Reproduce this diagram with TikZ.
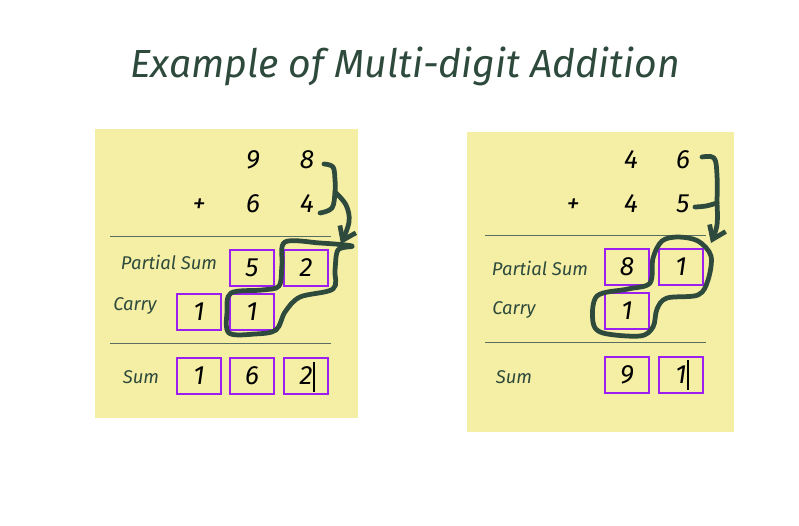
\documentclass[tikz,border=0pt]{standalone}
\usepackage{fontspec}
\setmainfont{Fira Sans}
\usepackage{tikz}
\usetikzlibrary{arrows.meta}

\definecolor{note}{HTML}{F5EEA5}
\definecolor{ink}{HTML}{2E4A3C}
\definecolor{boxc}{HTML}{9B1FF0}

\tikzset{
  digit/.style={font=\itshape\fontsize{15}{15}\selectfont, text=black, inner sep=0pt},
  cell/.style={rectangle, draw=boxc, line width=1.2pt, minimum width=0.88cm, minimum height=0.72cm, font=\itshape\fontsize{15}{15}\selectfont},
  lbl/.style={font=\itshape\fontsize{10.5}{10.5}\selectfont, text=ink, inner sep=0pt},
  rule/.style={draw=ink!80, line width=0.5pt},
  stroke/.style={draw=ink, line width=2.7pt, line cap=round, line join=round}
}

\begin{document}
\begin{tikzpicture}[x=0.02cm, y=-0.02cm]
\useasboundingbox (0,0) rectangle (799,525);
\node[font=\itshape\fontsize{22.3}{22.3}\selectfont, text=ink] (title) at (405,66) {Example of Multi-digit Addition};

% left note
\fill[note] (95,129) rectangle (358,418);
\node[digit] (la1) at (253,160) {9};
\node[digit] (la2) at (307,160) {8};
\node[digit] (lplus) at (199,206) {+};
\node[digit] (lb1) at (253,204) {6};
\node[digit] (lb2) at (307,204) {4};
\coordinate (lr1a) at (110,236);
\coordinate (lr1b) at (331,236);
\draw[rule] (lr1a) -- (lr1b);
\node[lbl] (lpart) at (169,262) {Partial Sum};
\node[cell] (lp1) at (252,268) {5};
\node[cell] (lp2) at (306,268) {2};
\node[lbl] (lcarry) at (135,306) {Carry};
\node[cell] (lc0) at (199,312) {1};
\node[cell] (lc1) at (252,312) {1};
\coordinate (lr2a) at (110,343);
\coordinate (lr2b) at (331,343);
\draw[rule] (lr2a) -- (lr2b);
\node[lbl] (lsum) at (141,377) {Sum};
\node[cell] (ls0) at (199,376) {1};
\node[cell] (ls1) at (252,376) {6};
\node[cell] (ls2) at (306,376) {2};
\draw[black, line width=0.6pt] (314,362) -- (314,392);

% left strokes
\draw[stroke] plot[smooth, tension=0.6] coordinates {(324,164) (333,167) (335,180) (335,192) (332,208) (320,213)};
\draw[stroke, -{Straight Barb[length=7pt, width=10pt]}] plot[smooth, tension=0.6] coordinates {(335,192) (346,205) (349,222) (341,244)};
\draw[stroke] plot[smooth cycle, tension=0.55] coordinates {(285,242) (320,243) (352,246) (338,250) (335,270) (333,289) (300,297) (285,312) (276,330) (255,334) (229,333) (227,312) (231,293) (262,290) (279,286) (282,265)};

% right note
\fill[note] (467,132) rectangle (734,432);
\node[digit] (ra1) at (631,160) {4};
\node[digit] (ra2) at (683,160) {6};
\node[digit] (rplus) at (573,206) {+};
\node[digit] (rb1) at (631,204) {4};
\node[digit] (rb2) at (683,204) {5};
\coordinate (rr1a) at (485,235);
\coordinate (rr1b) at (706,235);
\draw[rule] (rr1a) -- (rr1b);
\node[lbl] (rpart) at (540,268) {Partial Sum};
\node[cell] (rp1) at (627,267) {8};
\node[cell] (rp2) at (681,267) {1};
\node[lbl] (rcarry) at (514,310) {Carry};
\node[cell] (rc1) at (627,311) {1};
\coordinate (rr2a) at (485,342);
\coordinate (rr2b) at (706,342);
\draw[rule] (rr2a) -- (rr2b);
\node[lbl] (rsum) at (514,377) {Sum};
\node[cell] (rs1) at (627,375) {9};
\node[cell] (rs2) at (681,375) {1};
\draw[black, line width=0.6pt] (688,360) -- (688,390);

% right strokes
\draw[stroke] plot[smooth, tension=0.6] coordinates {(702,157) (714,158) (717,175) (717,203)};
\draw[stroke] plot[smooth, tension=0.6] coordinates {(695,207) (706,206) (717,203)};
\draw[stroke, -{Straight Barb[length=7pt, width=10pt]}] plot[smooth, tension=0.6] coordinates {(717,203) (717,225) (711,243)};
\draw[stroke] plot[smooth cycle, tension=0.55] coordinates {(678,237) (698,241) (711,256) (708,280) (698,295) (667,298) (657,309) (653,327) (640,336) (603,333) (593,322) (597,296) (628,289) (650,283) (653,258) (662,241)};
\end{tikzpicture}
\end{document}
